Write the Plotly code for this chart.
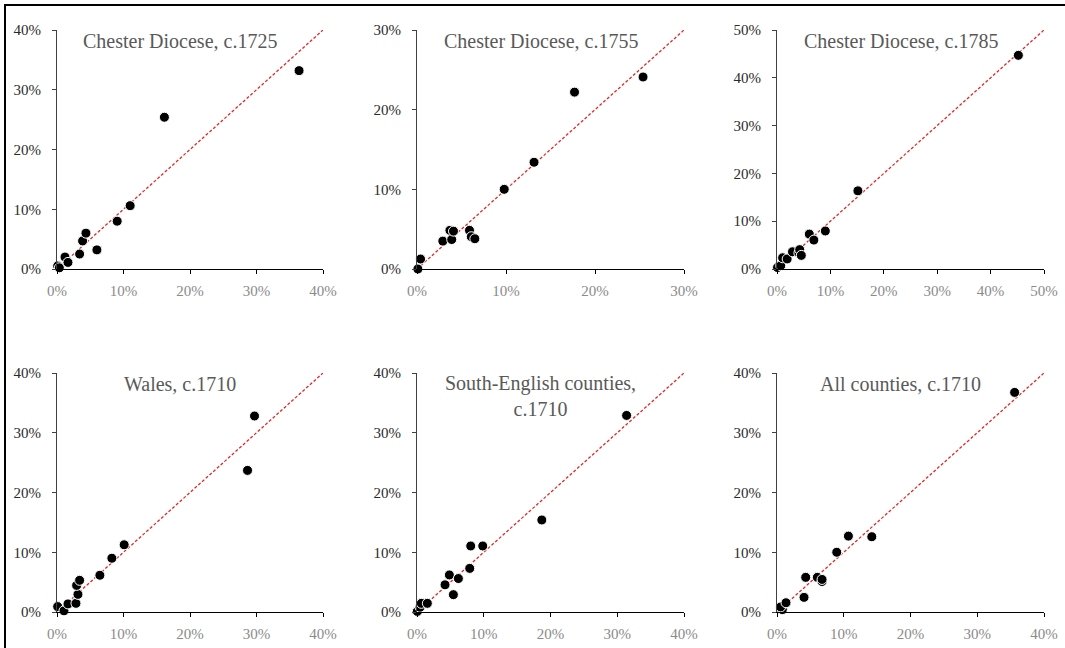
import plotly.graph_objects as go

# Panel titles and axis limits (percent)
titles = [
    "Chester Diocese, c.1725",
    "Chester Diocese, c.1755",
    "Chester Diocese, c.1785",
    "Wales, c.1710",
    "South-English counties,<br>c.1710",
    "All counties, c.1710",
]
axis_max = [40, 30, 50, 40, 40, 40]

# Shares (%) for each panel: x = first measure, y = second measure
chester_1725_x = [0.1, 0.35, 1.2, 1.65, 3.4, 3.85, 4.35, 6.0, 9.05, 11.0, 16.15, 36.4]
chester_1725_y = [0.5, 0.2, 2.0, 1.1, 2.5, 4.7, 6.0, 3.2, 8.0, 10.6, 25.4, 33.2]

chester_1755_x = [0.1, 0.4, 2.9, 3.7, 3.9, 4.1, 5.9, 6.1, 6.5, 9.8, 13.15, 17.7, 25.4]
chester_1755_y = [0.0, 1.25, 3.5, 4.85, 3.7, 4.75, 4.85, 4.05, 3.8, 10.0, 13.4, 22.2, 24.1]

chester_1785_x = [0.1, 0.7, 1.05, 1.9, 2.9, 4.1, 4.25, 4.55, 6.05, 6.9, 9.05, 15.15, 45.2]
chester_1785_y = [0.3, 0.7, 2.35, 2.1, 3.6, 3.35, 4.05, 2.85, 7.3, 6.05, 7.95, 16.35, 44.7]

wales_1710_x = [0.1, 1.05, 1.65, 2.85, 3.15, 2.95, 3.4, 6.45, 8.25, 10.1, 28.65, 29.7]
wales_1710_y = [0.9, 0.2, 1.35, 1.45, 2.95, 4.45, 5.3, 6.15, 9.0, 11.25, 23.7, 32.8]

south_1710_x = [0.05, 0.45, 0.65, 1.55, 4.2, 4.85, 5.45, 6.2, 7.9, 8.05, 9.85, 18.7, 31.4]
south_1710_y = [0.1, 0.8, 1.45, 1.45, 4.55, 6.2, 2.9, 5.6, 7.3, 11.05, 11.05, 15.4, 32.9]

all_1710_x = [0.8, 0.55, 1.35, 4.05, 4.3, 6.05, 6.75, 6.75, 8.95, 10.7, 14.2, 35.6]
all_1710_y = [0.4, 0.85, 1.55, 2.45, 5.8, 5.8, 5.1, 5.45, 10.0, 12.7, 12.6, 36.75]

series = [
    (chester_1725_x, chester_1725_y),
    (chester_1755_x, chester_1755_y),
    (chester_1785_x, chester_1785_y),
    (wales_1710_x, wales_1710_y),
    (south_1710_x, south_1710_y),
    (all_1710_x, all_1710_y),
]

W, H = 1065, 648
col_px = [(57, 323), (417, 684), (777, 1044)]
row_px = [(30, 269), (373, 612)]

fig = go.Figure()
layout = dict(
    width=W, height=H,
    margin=dict(l=0, r=0, t=0, b=0, autoexpand=False),
    paper_bgcolor="white", plot_bgcolor="white",
    showlegend=False,
    font=dict(family="Liberation Serif, Times New Roman, serif"),
)

annotations = []
for i, ((xs, ys), title, m) in enumerate(zip(series, titles, axis_max)):
    r, c = divmod(i, 3)
    n = "" if i == 0 else str(i + 1)
    xa, ya = "x" + n, "y" + n
    x0, x1 = col_px[c]
    t0, t1 = row_px[r]
    ticks = list(range(0, m + 1, 10))
    tick_text = [f"{v}%" for v in ticks]

    # 45-degree reference line
    fig.add_trace(go.Scatter(
        x=[0, m], y=[0, m], mode="lines", xaxis=xa, yaxis=ya,
        line=dict(color="#e02828", width=1.3, dash="3px,2px"),
        hoverinfo="skip",
    ))
    fig.add_trace(go.Scatter(
        x=xs, y=ys, mode="markers", xaxis=xa, yaxis=ya, cliponaxis=False,
        marker=dict(color="black", size=10, line=dict(color="white", width=1)),
    ))

    layout["xaxis" + n] = dict(
        domain=[x0 / W, x1 / W], anchor=ya, range=[0, m], automargin=False,
        showgrid=False, zeroline=False, showline=True,
        linecolor="#000000", linewidth=1.2,
        ticks="outside", ticklen=4, tickcolor="#000000", tickwidth=1,
        tickvals=ticks, ticktext=tick_text, ticklabelstandoff=4,
        tickfont=dict(size=15, color="#8a8a8a"),
    )
    layout["yaxis" + n] = dict(
        domain=[1 - t1 / H, 1 - t0 / H], anchor=xa, range=[0, m], automargin=False,
        showgrid=False, zeroline=False, showline=True,
        linecolor="#404040", linewidth=1.2,
        ticks="outside", ticklen=4, tickcolor="#404040", tickwidth=1,
        tickvals=ticks, ticktext=tick_text, ticklabelstandoff=8,
        tickfont=dict(size=15, color="#2a2a2a"),
    )
    two_line = "<br>" in title
    annotations.append(dict(
        text=title, xref=xa + " domain", yref=ya + " domain",
        x=0.464, y=0.904 if two_line else 0.954,
        xanchor="center", yanchor="middle", showarrow=False,
        font=dict(size=20, color="#595959"),
    ))

layout["annotations"] = annotations
# outer frame around the whole figure
layout["shapes"] = [dict(
    type="rect", xref="paper", yref="paper",
    x0=5 / W, x1=1.05, y0=-0.05, y1=1 - 5 / H,
    line=dict(color="black", width=2), layer="above",
)]

fig.update_layout(**layout)
fig.write_html("out.html")
